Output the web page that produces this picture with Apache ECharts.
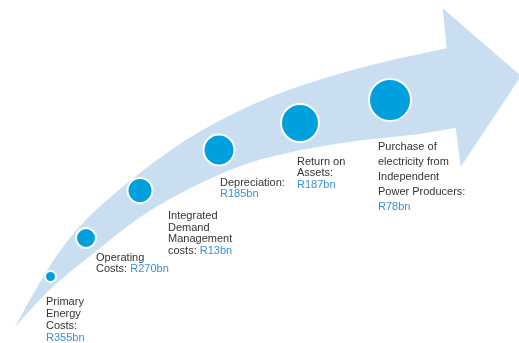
<!DOCTYPE html>
<html><head><meta charset="utf-8">
<script src="https://cdn.jsdelivr.net/npm/echarts@6/dist/echarts.min.js"></script>
<style>html,body{margin:0;padding:0;background:#fff}#c{width:519px;height:343px}</style>
</head><body><div id="c"></div>
<script>
// ---- data ----
const stepNames = ['Primary Energy Costs', 'Operating Costs', 'Integrated Demand Management costs', 'Depreciation', 'Return on Assets', 'Purchase of electricity from Independent Power Producers'];
const stepValues = ['R355bn', 'R270bn', 'R13bn', 'R185bn', 'R187bn', 'R78bn'];
const stepLabelLines = [
  ['Primary', 'Energy', 'Costs:'],
  ['Operating', 'Costs: '],
  ['Integrated', 'Demand', 'Management', 'costs: '],
  ['Depreciation:'],
  ['Return on', 'Assets:'],
  ['Purchase of', 'electricity from', 'Independent', 'Power Producers:']
];
const valueOnOwnLine = [true, false, false, true, true, true];
// bubble positions in chart units (x right, y down) and bubble magnitude
const bubbleX = [50.5, 86, 140, 219, 300, 390];
const bubbleY = [276.5, 238, 190.5, 150, 123, 100];
const bubbleSize = [9, 18, 23, 29, 36, 40];
// label anchor (top-left) in chart units
const labelX = [46, 96, 168, 220, 297, 378];
const labelY = [296.5, 252, 210.2, 177.8, 156, 140];
// arrow outline in chart units
const arrowUpper = [[15, 327], [40, 280], [75, 229], [120, 188], [170, 150], [210, 125], [270, 96], [330, 76], [390, 60], [446.7, 48.3]];
const arrowHead = [[442.7, 8.3], [521, 76], [460.7, 166.7], [455.7, 127.7]];
const arrowLower = [[420, 134], [360, 140], [297, 150], [235, 166], [150, 208], [90, 256], [50, 288], [15, 327]];

// ---- styles ----
const labelLineHeight = [11.8, 11.5, 11.7, 11, 11.6, 14.9];
const FONT = "'Liberation Sans', Arial, sans-serif";

const chart = echarts.init(document.getElementById('c'), null, {renderer: 'canvas'});

function smoothSeg(pts) {
  let d = '';
  d += ' L ' + pts[0][0] + ' ' + pts[0][1];
  for (let i = 1; i < pts.length - 1; i++) {
    const mx = (pts[i][0] + pts[i + 1][0]) / 2, my = (pts[i][1] + pts[i + 1][1]) / 2;
    d += ' Q ' + pts[i][0] + ' ' + pts[i][1] + ' ' + mx + ' ' + my;
  }
  const l = pts[pts.length - 1];
  d += ' L ' + l[0] + ' ' + l[1];
  return d;
}

chart.setOption({
  animation: false,
  grid: {left: 0, right: 0, top: 0, bottom: 0},
  xAxis: {type: 'value', min: 0, max: 519, show: false},
  yAxis: {type: 'value', min: 0, max: 343, inverse: true, show: false},
  series: [
    {
      type: 'custom',
      silent: true,
      data: [[0, 0]],
      renderItem: function (params, api) {
        const up = arrowUpper.map(p => api.coord(p));
        const hd = arrowHead.map(p => api.coord(p));
        const lo = arrowLower.map(p => api.coord(p));
        let d = 'M ' + up[0][0] + ' ' + up[0][1];
        d += smoothSeg(up);
        hd.forEach(p => { d += ' L ' + p[0] + ' ' + p[1]; });
        d += smoothSeg(lo);
        d += ' Z';
        return {type: 'path', shape: {pathData: d}, style: {fill: '#C9DEF1'}};
      }
    },
    {
      type: 'scatter',
      silent: true,
      data: bubbleX.map((x, i) => ({name: stepNames[i], value: [x, bubbleY[i], bubbleSize[i]]})),
      symbol: 'circle',
      symbolSize: v => v[2] + 2,
      itemStyle: {color: '#00A0DF', borderColor: '#ffffff', borderWidth: 2, opacity: 1},
      emphasis: {disabled: true}
    },
    {
      type: 'custom',
      silent: true,
      data: labelX.map((x, i) => [x, labelY[i]]),
      renderItem: function (params, api) {
        const i = params.dataIndex;
        const p = api.coord([api.value(0), api.value(1)]);
        const lines = stepLabelLines[i].map(s => '{t|' + s + '}');
        let txt;
        if (valueOnOwnLine[i]) {
          txt = lines.join('\n') + '\n{v|' + stepValues[i] + '}';
        } else {
          lines[lines.length - 1] += '{v|' + stepValues[i] + '}';
          txt = lines.join('\n');
        }
        const lh = labelLineHeight[i];
        return {
          type: 'text', x: p[0], y: p[1],
          style: {
            text: txt, align: 'left', verticalAlign: 'top',
            font: '11px ' + FONT, lineHeight: lh,
            rich: {
              t: {fill: '#333333', fontSize: 11, fontFamily: FONT, lineHeight: lh},
              v: {fill: '#3A8FD6', fontSize: 11, fontFamily: FONT, lineHeight: lh}
            }
          }
        };
      }
    }
  ]
});
</script></body></html>
